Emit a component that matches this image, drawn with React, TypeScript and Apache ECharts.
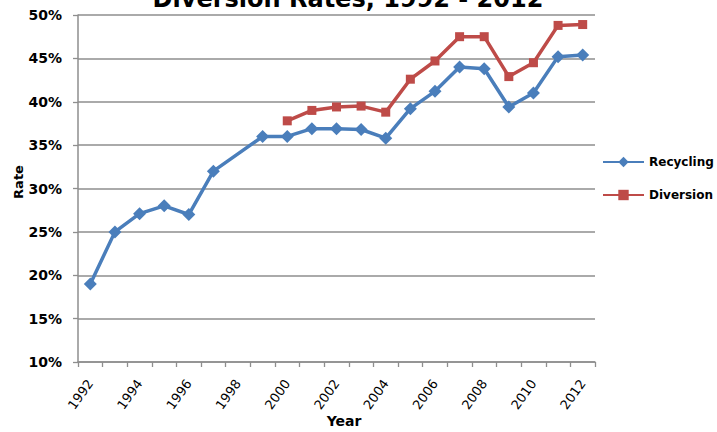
import React, { useEffect, useRef } from "react";
import * as echarts from "echarts";

const years = [
  "1992", "1993", "1994", "1995", "1996", "1997", "1998", "1999", "2000", "2001", "2002",
  "2003", "2004", "2005", "2006", "2007", "2008", "2009", "2010", "2011", "2012",
];
const recycling = [
  19.0, 25.0, 27.1, 28.0, 27.0, 32.0, null, 36.0, 36.0, 36.9, 36.9,
  36.8, 35.8, 39.2, 41.2, 44.0, 43.8, 39.4, 41.0, 45.2, 45.4,
];
const diversion = [
  null, null, null, null, null, null, null, null, 37.8, 39.0, 39.4,
  39.5, 38.8, 42.6, 44.7, 47.5, 47.5, 42.9, 44.5, 48.8, 48.9,
];
const titleText = "Diversion Rates, 1992 - 2012";
const xName = "Year";
const yName = "Rate";

const FONT = "DejaVu Sans";
const GRID_COLOR = "#8e8e8e";

export default function App() {
  const ref = useRef<HTMLDivElement>(null);
  useEffect(() => {
    document.body.style.margin = "0";
    const chart = echarts.init(ref.current!, null, { renderer: "svg" });
    chart.setOption({
      animation: false,
      backgroundColor: "#ffffff",
      textStyle: { fontFamily: FONT },
      grid: { left: 78, right: 122, top: 15, bottom: 70, containLabel: false },
      graphic: [
        {
          type: "text",
          x: 348,
          y: -1,
          style: {
            text: titleText,
            font: `bold 24px "${FONT}"`,
            fill: "#000",
            textAlign: "center",
            textVerticalAlign: "middle",
          },
          z: 100,
        },
        {
          type: "text",
          x: 344,
          y: 421,
          style: {
            text: xName,
            font: `bold 14px "${FONT}"`,
            fill: "#000",
            textAlign: "center",
            textVerticalAlign: "middle",
          },
        },
        {
          type: "text",
          x: 18,
          y: 182,
          rotation: Math.PI / 2,
          style: {
            text: yName,
            font: `bold 13px "${FONT}"`,
            fill: "#000",
            textAlign: "center",
            textVerticalAlign: "middle",
          },
        },
      ],
      legend: {
        orient: "vertical",
        left: 597,
        top: 151,
        itemWidth: 41,
        itemHeight: 13,
        itemGap: 21,
        textStyle: { fontFamily: FONT, fontWeight: "bold", fontSize: 12, color: "#000" },
        data: ["Recycling", "Diversion"],
      },
      xAxis: {
        type: "category",
        data: years,
        boundaryGap: true,
        axisLine: { lineStyle: { color: GRID_COLOR, width: 1.5 } },
        axisTick: { show: true, interval: 0, length: 5, lineStyle: { color: GRID_COLOR, width: 1.3 } },
        axisLabel: {
          interval: 1,
          rotate: 54,
          margin: 19,
          fontFamily: FONT,
          fontSize: 13,
          color: "#000",
        },
        splitLine: { show: false },
      },
      yAxis: {
        type: "value",
        min: 10,
        max: 50,
        interval: 5,
        axisLine: { show: true, lineStyle: { color: GRID_COLOR, width: 1.5 } },
        axisTick: { show: true, length: 5, lineStyle: { color: GRID_COLOR, width: 1.3 } },
        axisLabel: {
          formatter: "{value}%",
          margin: 16,
          fontFamily: FONT,
          fontWeight: "bold",
          fontSize: 14,
          color: "#000",
        },
        splitLine: { show: true, lineStyle: { color: GRID_COLOR, width: 1.5 } },
      },
      series: [
        {
          name: "Recycling",
          type: "line",
          data: recycling,
          connectNulls: true,
          symbol: "diamond",
          symbolSize: 13,
          color: "#4a7ebb",
          lineStyle: { width: 3.5, color: "#4a7ebb" },
          itemStyle: { color: "#4a7ebb" },
        },
        {
          name: "Diversion",
          type: "line",
          data: diversion,
          connectNulls: false,
          symbol: "rect",
          symbolSize: 9,
          color: "#be4b48",
          lineStyle: { width: 3.5, color: "#be4b48" },
          itemStyle: { color: "#be4b48" },
        },
      ],
    });
    return () => chart.dispose();
  }, []);
  return (
    <div
      ref={ref}
      style={{ position: "fixed", left: 0, top: 0, width: 717, height: 432 }}
    />
  );
}
